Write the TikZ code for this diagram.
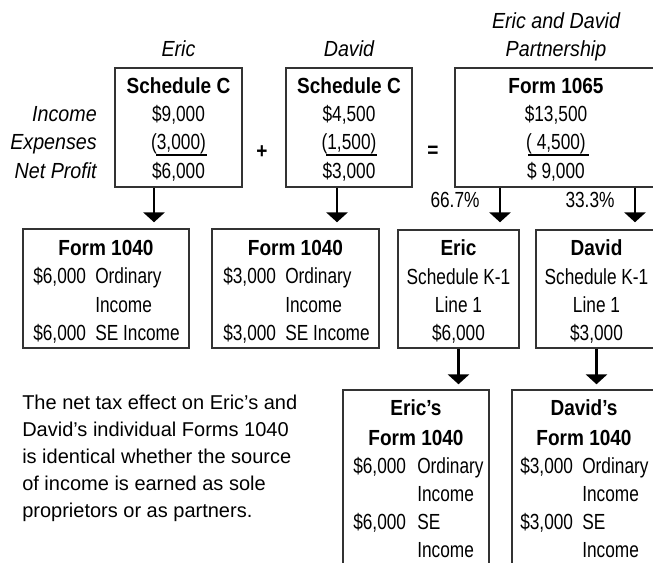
\documentclass[tikz,border=0pt]{standalone}
\usepackage{fontspec}
\setmainfont{Liberation Sans}
\newfontfamily\condfont{Liberation Sans}[FakeStretch=0.79]
\newfontfamily\condbold{Liberation Sans Bold}[FakeStretch=0.87]
\newfontfamily\condital{Liberation Sans Italic}[FakeStretch=0.9]
\newfontfamily\notefont{Liberation Sans}
\usetikzlibrary{arrows.meta,fit}
\tikzset{
	box/.style={draw=black!80, line width=1.1pt, inner sep=0pt},
	flow/.style={line width=2.2pt, -{Triangle[width=16pt,length=7.5pt]}},
	rule/.style={line width=1pt},
	txt/.style={inner sep=0pt, font=\fontsize{16.4}{21.3}\selectfont\condfont},
	hd/.style={inner sep=0pt, font=\fontsize{16.4}{21.3}\selectfont\condbold},
	lbl/.style={inner sep=0pt, font=\fontsize{16.4}{21.3}\selectfont\condital},
	note/.style={inner sep=0pt, align=left, font=\fontsize{15}{20.25}\selectfont\notefont}
}
\begin{document}
\begin{tikzpicture}[x=0.75pt,y=0.75pt,yscale=-1,xscale=1]
		\useasboundingbox (0,0) rectangle (653,563);
		\clip (0,0) rectangle (653,563);
		%Boxes
		\node[box, fit={(115,68) (242,187)}] (ericC) {};
		\node[box, fit={(286,68) (412,187)}] (davidC) {};
		\node[box, fit={(455,68) (657,187)}] (partF) {};
		\node[box, fit={(23,229) (189,348)}] (ericF) {};
		\node[box, fit={(212,229) (379,348)}] (davidF) {};
		\node[box, fit={(398,230) (519,348)}] (ericK) {};
		\node[box, fit={(536,230) (657,348)}] (davidK) {};
		\node[box, fit={(343,390) (489,600)}] (ericX) {};
		\node[box, fit={(512,390) (656,600)}] (davidX) {};
		
		% Text Node
		\node[lbl, anchor=base] (ericTop) at (178.5,57) {Eric};
		% Text Node
		\node[lbl, anchor=base] (davidTop) at (349,57) {David};
		% Text Node
		\node[lbl, anchor=base] (partTop) at (556,28.5) {Eric and David};
		% Text Node
		\node[lbl, anchor=base] (partTop2) at (556,57) {Partnership};
		% Text Node
		\node[lbl, anchor=base east] (incLbl) at (97,122) {Income};
		% Text Node
		\node[lbl, anchor=base east] (expLbl) at (97,150) {Expenses};
		% Text Node
		\node[lbl, anchor=base east] (netLbl) at (97,178.5) {Net Profit};
		
		% Text Node
		\node[hd, anchor=base] (ericC1) at (178.5,93.5) {Schedule C};
		\node[txt, anchor=base] (ericC2) at (178.5,122) {\$9,000};
		\node[txt, anchor=base] (ericC3) at (178.5,150) {(3,000)};
		\node[txt, anchor=base] (ericC4) at (178.5,178.5) {\$6,000};
		\draw[rule] (156,155) -- (207,155);
		% Text Node
		\node[hd] (plus) at (262,152) {+};
		% Text Node
		\node[hd, anchor=base] (davidC1) at (349,93.5) {Schedule C};
		\node[txt, anchor=base] (davidC2) at (349,122) {\$4,500};
		\node[txt, anchor=base] (davidC3) at (349,150) {(1,500)};
		\node[txt, anchor=base] (davidC4) at (349,178.5) {\$3,000};
		\draw[rule] (326,155) -- (377,155);
		% Text Node
		\node[hd] (equals) at (433,152) {=};
		% Text Node
		\node[hd, anchor=base] (partF1) at (556,93.5) {Form 1065};
		\node[txt, anchor=base] (partF2) at (556,122) {\$13,500};
		\node[txt, anchor=base] (partF3) at (556,150) {(~4,500)};
		\node[txt, anchor=base] (partF4) at (556,178.5) {\$~9,000};
		\draw[rule] (528,155) -- (589,155);
		
		% Text Node
		\node[txt, anchor=base] (pctEric) at (455,207) {66.7\%};
		% Text Node
		\node[txt, anchor=base] (pctDavid) at (590,207) {33.3\%};
		
		% Text Node
		\node[hd, anchor=base] (ericF1) at (106,255) {Form 1040};
		\node[txt, anchor=base west] (ericF2) at (33,283.5) {\$6,000};
		\node[txt, anchor=base west] (ericF3) at (95,283.5) {Ordinary};
		\node[txt, anchor=base west] (ericF4) at (95,312) {Income};
		\node[txt, anchor=base west] (ericF5) at (33,340.5) {\$6,000};
		\node[txt, anchor=base west] (ericF6) at (95,340.5) {SE Income};
		% Text Node
		\node[hd, anchor=base] (davidF1) at (295.5,255) {Form 1040};
		\node[txt, anchor=base west] (davidF2) at (223,283.5) {\$3,000};
		\node[txt, anchor=base west] (davidF3) at (285,283.5) {Ordinary};
		\node[txt, anchor=base west] (davidF4) at (285,312) {Income};
		\node[txt, anchor=base west] (davidF5) at (223,340.5) {\$3,000};
		\node[txt, anchor=base west] (davidF6) at (285,340.5) {SE Income};
		% Text Node
		\node[hd, anchor=base] (ericK1) at (458.5,255) {Eric};
		\node[txt, anchor=base] (ericK2) at (458.5,284) {Schedule K-1};
		\node[txt, anchor=base] (ericK3) at (458.5,312) {Line 1};
		\node[txt, anchor=base] (ericK4) at (458.5,340) {\$6,000};
		% Text Node
		\node[hd, anchor=base] (davidK1) at (596.5,255) {David};
		\node[txt, anchor=base] (davidK2) at (596.5,284) {Schedule K-1};
		\node[txt, anchor=base] (davidK3) at (596.5,312) {Line 1};
		\node[txt, anchor=base] (davidK4) at (596.5,340) {\$3,000};
		
		% Text Node
		\node[hd, anchor=base] (ericX1) at (416,415) {Eric’s};
		\node[hd, anchor=base] (ericX2) at (416,445) {Form 1040};
		\node[txt, anchor=base west] (ericX3) at (353,473) {\$6,000};
		\node[txt, anchor=base west] (ericX4) at (417,473) {Ordinary};
		\node[txt, anchor=base west] (ericX5) at (417,501) {Income};
		\node[txt, anchor=base west] (ericX6) at (353,529) {\$6,000};
		\node[txt, anchor=base west] (ericX7) at (417,529) {SE};
		\node[txt, anchor=base west] (ericX8) at (417,557) {Income};
		% Text Node
		\node[hd, anchor=base] (davidX1) at (584,415) {David’s};
		\node[hd, anchor=base] (davidX2) at (584,445) {Form 1040};
		\node[txt, anchor=base west] (davidX3) at (520,473) {\$3,000};
		\node[txt, anchor=base west] (davidX4) at (582,473) {Ordinary};
		\node[txt, anchor=base west] (davidX5) at (582,501) {Income};
		\node[txt, anchor=base west] (davidX6) at (520,529) {\$3,000};
		\node[txt, anchor=base west] (davidX7) at (582,529) {SE};
		\node[txt, anchor=base west] (davidX8) at (582,557) {Income};
		
		% Text Node
		\node[note, anchor=north west] (summary) at (22,394.5) {The net tax effect on Eric’s and\\David’s individual Forms 1040\\is identical whether the source\\of income is earned as sole\\proprietors or as partners.};
		
		%Arrows
		\draw[flow, shorten >=4.5pt] ([xshift=-18.375pt]ericC.south) -- ([xshift=-18.375pt]ericC.south |- ericF.north);
		\draw[flow, shorten >=4.5pt] ([xshift=-9pt]davidC.south) -- ([xshift=-9pt]davidC.south |- davidF.north);
		\draw[flow, shorten >=5.25pt] ([xshift=-42pt]partF.south) -- ([xshift=-42pt]partF.south |- ericK.north);
		\draw[flow, shorten >=5.25pt] ([xshift=59.25pt]partF.south) -- ([xshift=59.25pt]partF.south |- davidK.north);
		\draw[flow, shorten >=3.75pt] (ericK.south) -- (ericK.south |- ericX.north);
		\draw[flow, shorten >=3.75pt] (davidK.south) -- (davidK.south |- davidX.north);
	\end{tikzpicture}
\end{document}
